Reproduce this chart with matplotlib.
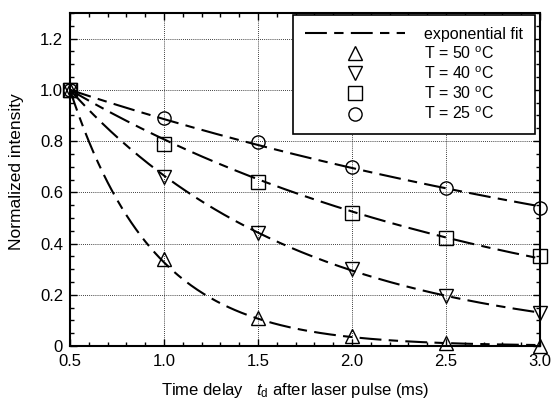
import numpy as np
import matplotlib
matplotlib.use("Agg")
import matplotlib.pyplot as plt
from matplotlib.ticker import MultipleLocator
from matplotlib.lines import Line2D

plt.rcParams['font.family'] = ['Liberation Sans', 'DejaVu Sans']
plt.rcParams['mathtext.fontset'] = 'custom'
plt.rcParams['mathtext.rm'] = 'Liberation Sans'
plt.rcParams['mathtext.it'] = 'Liberation Sans:italic'

t = [0.5, 1.0, 1.5, 2.0, 2.5, 3.0]
y25 = [1.0, 0.89, 0.795, 0.70, 0.615, 0.54]
y30 = [1.0, 0.79, 0.64, 0.52, 0.42, 0.35]
y40 = [1.0, 0.66, 0.44, 0.30, 0.195, 0.13]
y50 = [1.0, 0.34, 0.11, 0.04, 0.01, 0.0]

series = [
    ("T = 50 $^{\\mathrm{o}}$C", y50, '^'),
    ("T = 40 $^{\\mathrm{o}}$C", y40, 'v'),
    ("T = 30 $^{\\mathrm{o}}$C", y30, 's'),
    ("T = 25 $^{\\mathrm{o}}$C", y25, 'o'),
]

fig = plt.figure(figsize=(5.51, 4.0), dpi=100)
ax = fig.add_axes([0.127, 0.135, 0.853, 0.8325])

tt = np.array(t)
tfine = np.linspace(0.5, 3.0, 300)
dash = (10.5, 3.5, 4.5, 3.5)
for label, y, m in series:
    ya = np.array(y)
    mask = ya > 0.005
    dt = tt[mask] - t[0]
    k = -np.sum(dt * np.log(ya[mask])) / np.sum(dt * dt)
    ax.plot(tfine, np.exp(-k * (tfine - t[0])), color='black', lw=1.5,
            dashes=dash, zorder=2)
    ax.plot(t, y, linestyle='none', marker=m, markersize=9.5,
            markerfacecolor='none', markeredgecolor='black', mew=1.0,
            zorder=3, clip_on=False)

ax.set_xlim(0.5, 3.0)
ax.set_ylim(0, 1.3)
ax.xaxis.set_minor_locator(MultipleLocator(0.1))
ax.yaxis.set_minor_locator(MultipleLocator(0.05))
ax.set_xticks([0.5, 1.0, 1.5, 2.0, 2.5, 3.0])
ax.set_xticklabels(['0.5', '1.0', '1.5', '2.0', '2.5', '3.0'])
ax.set_yticks([0, 0.2, 0.4, 0.6, 0.8, 1.0, 1.2])
ax.set_yticklabels(['0', '0.2', '0.4', '0.6', '0.8', '1.0', '1.2'])
ax.tick_params(which='both', direction='in', top=True, right=True,
               labelsize=12, width=1)
ax.tick_params(axis='x', pad=6)
ax.tick_params(axis='y', pad=5)
ax.tick_params(which='major', length=5)
ax.tick_params(which='minor', length=3)
for s in ax.spines.values():
    s.set_linewidth(1.5)
ax.grid(True, which='major', linestyle=(0, (1, 1.5)), color='black', lw=0.6)

ax.set_xlabel("Time delay   $t_\\mathrm{d}$ after laser pulse (ms)", fontsize=12)
ax.xaxis.set_label_coords(0.479, -0.105)
ax.set_ylabel("Normalized intensity", fontsize=12.5)
ax.yaxis.set_label_coords(-0.097, 0.525)

handles = [Line2D([], [], color='black', lw=1.5, dashes=(10.5, 3.5, 4.5, 3.5))]
labels = ["exponential fit"]
for label, y, m in series:
    handles.append(Line2D([], [], linestyle='none', marker=m, markersize=9.5,
                          markerfacecolor='none', markeredgecolor='black', mew=1.0))
    labels.append(label)
leg = ax.legend(handles, labels, loc='upper right', fontsize=11.5, frameon=True,
                fancybox=False, edgecolor='black', framealpha=1,
                handlelength=6.3, handletextpad=1.2, labelspacing=0.22,
                borderpad=0.75, borderaxespad=0.0, bbox_to_anchor=(0.99, 0.995))
leg.get_frame().set_linewidth(1.2)

fig.savefig("out.png", dpi=100)
